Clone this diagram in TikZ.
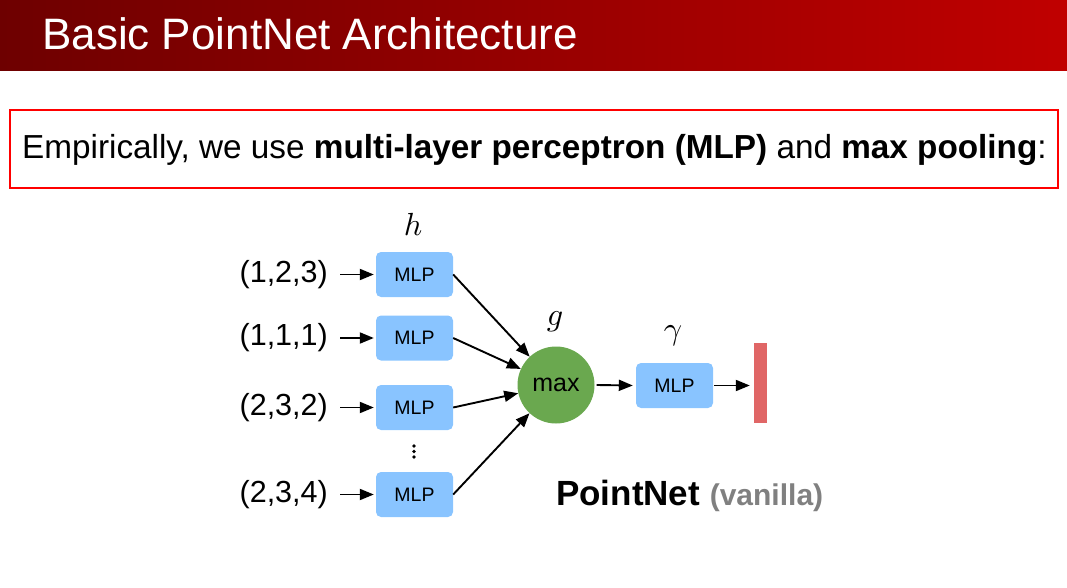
\documentclass[tikz,border=0pt]{standalone}
\usepackage{fontspec}
\setmainfont{Liberation Sans}
\usetikzlibrary{arrows.meta}
\definecolor{barL}{RGB}{110,0,0}
\definecolor{barR}{RGB}{192,0,0}
\definecolor{mlpblue}{RGB}{137,196,255}
\definecolor{maxgreen}{RGB}{106,168,79}
\definecolor{outred}{RGB}{224,102,102}
\definecolor{vgray}{RGB}{128,128,128}
\tikzset{
  mlpbox/.style={fill=mlpblue, rounded corners=5pt, minimum width=77pt, minimum height=45pt, inner sep=0pt, font=\fontsize{19.5}{21}\selectfont},
  inlabel/.style={anchor=east, font=\fontsize{30.5}{33}\selectfont, inner sep=0pt},
  arr/.style={-{Triangle[length=14pt,width=11pt]}, line width=1.9pt},
  sym/.style={scale=3.2, inner sep=0pt}
}
\begin{document}
\begin{tikzpicture}[x=1pt,y=-1pt]
\useasboundingbox (0,0) rectangle (1067,588);
\fill[left color=barL, right color=barR] (0,0) rectangle (1067,71);
\node[anchor=base west, text=white, font=\fontsize{44}{48}\selectfont, inner sep=0pt] (title) at (42,50) {Basic PointNet Architecture};
\node[draw=red, line width=2pt, minimum width=1048pt, minimum height=78pt, inner sep=0pt] (box) at (534,149) {};
\node[anchor=base west, font=\fontsize{33.3}{36}\selectfont, inner sep=0pt] (emp) at (22,159) {Empirically, we use \textbf{multi-layer perceptron (MLP)} and \textbf{max pooling}:};

\node[mlpbox] (m1) at (414.5,274.5) {MLP};
\node[mlpbox] (m2) at (414.5,338) {MLP};
\node[mlpbox] (m3) at (414.5,407.5) {MLP};
\node[mlpbox] (m4) at (414.5,494.5) {MLP};
\node[inlabel] (i1) at (328,274.5) {(1,2,3)};
\node[inlabel] (i2) at (328,338) {(1,1,1)};
\node[inlabel] (i3) at (328,407.5) {(2,3,2)};
\node[inlabel] (i4) at (328,494.5) {(2,3,4)};
\foreach \k in {1,2,3,4} \draw[arr] ([xshift=12pt]i\k.east) -- ([xshift=-2pt]m\k.west);
\node[sym] (h) at (413,224) {$h$};
\foreach \yy in {446,451.5,457} \fill (414,\yy) circle (1.8pt);

\node[circle, fill=maxgreen, minimum size=77pt, inner sep=0pt, font=\fontsize{25}{28}\selectfont] (max) at (556,385) {max};
\node[sym] (g) at (555,322) {$g$};
\foreach \k in {1,2,3,4} \draw[arr] (m\k.east) -- (max);

\node[mlpbox] (m5) at (674.5,385.5) {MLP};
\node[sym] (gam) at (673,336) {$\gamma$};
\draw[arr] ([xshift=2pt]max.east) -- ([xshift=-3pt]m5.west);
\node[fill=outred, minimum width=13pt, minimum height=80pt, inner sep=0pt] (out) at (760.5,383) {};
\draw[arr] ([xshift=1pt]m5.east) -- ([xshift=-4pt]m5.east -| out.west);

\node[anchor=base west, inner sep=0pt] (pn) at (556,505) {\fontsize{35}{38}\selectfont\textbf{PointNet} \textcolor{vgray}{\fontsize{30}{33}\selectfont\textbf{(vanilla)}}};
\end{tikzpicture}
\end{document}
